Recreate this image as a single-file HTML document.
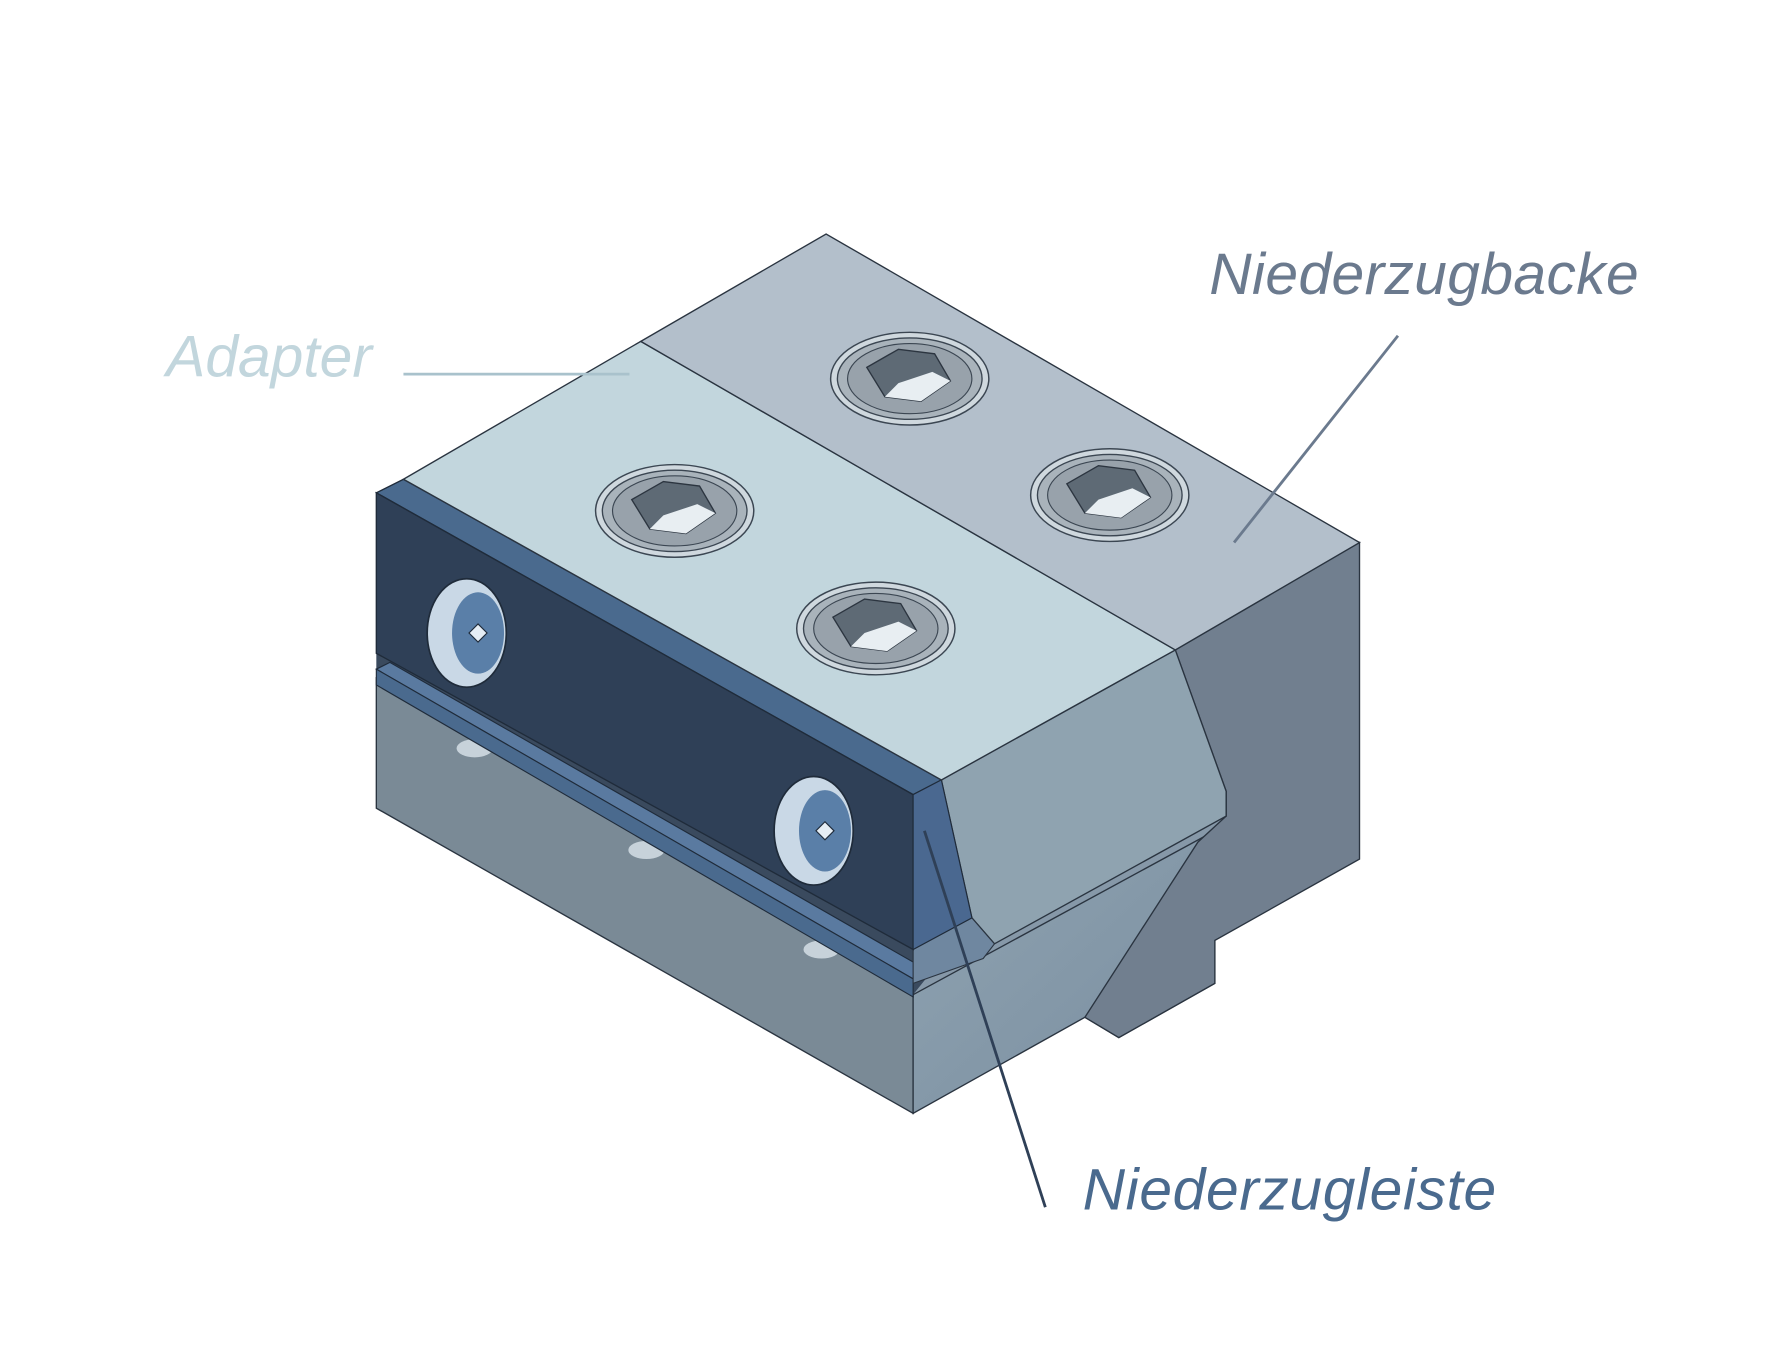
<!DOCTYPE html>
<html><head><meta charset="utf-8"><style>
html,body{margin:0;padding:0;background:#fff;width:1772px;height:1353px;overflow:hidden}
svg{display:block}
text{font-family:"Liberation Sans",sans-serif;font-style:italic}
</style></head><body>
<svg width="1772" height="1353" viewBox="0 0 1568 1197" preserveAspectRatio="none" xmlns="http://www.w3.org/2000/svg">
<defs>
<linearGradient id="rg" x1="0" y1="0" x2="1" y2="1"><stop offset="0" stop-color="#8fa3b1"/><stop offset="1" stop-color="#7a8ea0"/></linearGradient>
<g id="scr">
<ellipse rx="70" ry="41" fill="#cfd8de" stroke="#3b4652" stroke-width="1.3"/>
<ellipse rx="64" ry="36" fill="#a9b3bb" stroke="#3b4652" stroke-width="1.2"/>
<ellipse rx="55" ry="31" fill="#98a2ab" stroke="#3b4652" stroke-width="1"/>
<polygon points="-38,-10 -10,-26 22,-22 36,2 10,20 -22,16" fill="#5e6a75" stroke="#2c3540" stroke-width="1.2"/>
<polygon points="-22,16 10,20 36,2 20,-6 -10,4" fill="#e8eef2"/>
</g>
<g id="side">
<ellipse rx="35" ry="48" fill="#c9d8e6" stroke="#1f2b3a" stroke-width="1.5"/>
<ellipse cx="10" cy="0" rx="23" ry="36" fill="#5a7fa8"/>
<polygon points="10,-8 18,0 10,8 2,0" fill="#e6eef5" stroke="#1f2b3a"/>
</g>
</defs>
<polygon points="333,570 808,835 880,835 1085,715 1085,745 1000,800 808,885 333,610" fill="#3a4a5e"/>
<polygon points="860,815 1085,700 1085,760 960,900 808,940 808,880" fill="#8698a8"/>
<polygon points="333,600 808,880 808,985 333,715" fill="#7a8a96" stroke="#2a3440" stroke-width="1.2"/>
<polygon points="808,880 1075,735 1075,870 990,918 960,900 808,985" fill="url(#rg)" stroke="#2a3440" stroke-width="1.2"/>
<ellipse cx="420" cy="662" rx="16" ry="8" fill="#c7d2da"/>
<ellipse cx="572" cy="752" rx="16" ry="8" fill="#c7d2da"/>
<ellipse cx="727" cy="840" rx="16" ry="8" fill="#c7d2da"/>
<polygon points="333,592 345,586 820,858 808,866" fill="#5a7aa0" stroke="#1f2b3a" stroke-width="1"/>
<polygon points="333,592 808,866 808,882 333,606" fill="#4a6a8e" stroke="#1f2b3a" stroke-width="1"/>
<polygon points="1040,575 1203,480 1203,760 1075,832 1075,870 990,918 960,900 1060,745 1085,722 1085,700" fill="#717f8f" stroke="#2a3440" stroke-width="1.2"/>
<polygon points="833,690 1040,575 1085,700 1085,722 880,835 860,812" fill="#8fa3b0" stroke="#2a3440" stroke-width="1.2"/>
<polygon points="808,840 860,812 880,835 870,848 808,870" fill="#6f87a0" stroke="#2a3440"/>
<polygon points="333,436 357,424 833,690 808,703" fill="#4a6a8e" stroke="#1f2b3a" stroke-width="1.2"/>
<polygon points="333,436 808,703 808,840 333,578" fill="#2f4057" stroke="#1f2b3a" stroke-width="1.2"/>
<polygon points="808,703 833,690 860,812 808,840" fill="#4a6890" stroke="#1f2b3a" stroke-width="1"/>
<use href="#side" x="413" y="560"/>
<use href="#side" x="720" y="735"/>
<polygon points="357,424 567,302 1040,575 833,690" fill="#c2d6dd" stroke="#2a3440" stroke-width="1.2"/>
<polygon points="567,302 731,207 1203,480 1040,575" fill="#b3bfcb" stroke="#2a3440" stroke-width="1.2"/>
<use href="#scr" x="805" y="335"/>
<use href="#scr" x="982" y="438"/>
<use href="#scr" x="597" y="452"/>
<use href="#scr" x="775" y="556"/>
<text x="147" y="333" font-size="52" fill="#c2d6dd">Adapter</text>
<line x1="357" y1="331" x2="557" y2="331" stroke="#a9c2cc" stroke-width="2.5"/>
<text x="1070" y="260" font-size="52" fill="#6b7a8e" textLength="380">Niederzugbacke</text>
<line x1="1237" y1="297" x2="1092" y2="480" stroke="#6b7a8e" stroke-width="2.5"/>
<text x="958" y="1070" font-size="52" fill="#4a6a8e" textLength="366">Niederzugleiste</text>
<line x1="818" y1="735" x2="925" y2="1068" stroke="#2f4057" stroke-width="2.5"/>
</svg>
</body></html>
